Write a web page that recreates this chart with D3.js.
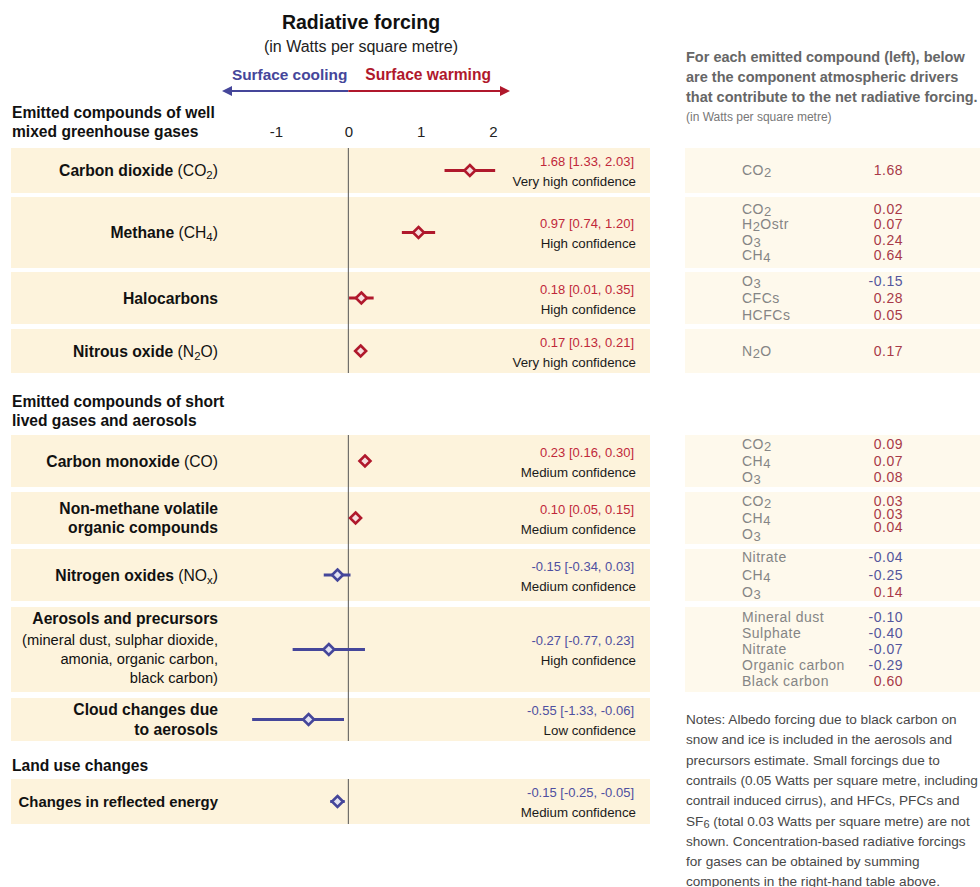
<!DOCTYPE html>
<html>
<head>
<meta charset="utf-8">
<script src="https://cdn.jsdelivr.net/npm/d3@7/dist/d3.min.js"></script>
<style>
  html, body { margin: 0; padding: 0; background: #ffffff; }
  svg { display: block; }
  text { font-family: "Liberation Sans", Arial, sans-serif; }
</style>
</head>
<body>
<svg id="chart" width="980" height="887"></svg>
<script>
// ---- Data -------------------------------------------------------------
// Emitted compounds: name (bold), formula pieces [text, subscript], best estimate and range
const compoundNames = [
  ["Carbon dioxide"], ["Methane"], ["Halocarbons"], ["Nitrous oxide"],
  ["Carbon monoxide"], ["Non-methane volatile", "organic compounds"], ["Nitrogen oxides"],
  ["Aerosols and precursors"], ["Cloud changes due", "to aerosols"],
  ["Changes in reflected energy"]
];
const compoundFormulas = [
  [["(CO", "2", ")"]], [["(CH", "4", ")"]], null, [["(N", "2", "O)"]],
  [["(CO)", "", ""]], null, [["(NO", "x", ")"]],
  null, null, null
];
const aerosolNote = ["(mineral dust, sulphar dioxide,", "amonia, organic carbon,", "black carbon)"];
const bestEstimate = [1.68, 0.97, 0.18, 0.17, 0.23, 0.10, -0.15, -0.27, -0.55, -0.15];
const lowerBound   = [1.33, 0.74, 0.01, 0.13, 0.16, 0.05, -0.34, -0.77, -1.33, -0.25];
const upperBound   = [2.03, 1.20, 0.35, 0.21, 0.30, 0.15, 0.03, 0.23, -0.06, -0.05];
const confidence = [
  "Very high confidence", "High confidence", "High confidence", "Very high confidence",
  "Medium confidence", "Medium confidence", "Medium confidence", "High confidence",
  "Low confidence", "Medium confidence"
];
const tickValues = [-1, 0, 1, 2];

// Component atmospheric drivers for each emitted compound (right-hand table)
const driverLabels = [
  ["CO2"], ["CO2", "H2Ostr", "O3", "CH4"], ["O3", "CFCs", "HCFCs"], ["N2O"],
  ["CO2", "CH4", "O3"], ["CO2", "CH4", "O3"], ["Nitrate", "CH4", "O3"],
  ["Mineral dust", "Sulphate", "Nitrate", "Organic carbon", "Black carbon"]
];
const driverValues = [
  ["1.68"], ["0.02", "0.07", "0.24", "0.64"], ["-0.15", "0.28", "0.05"], ["0.17"],
  ["0.09", "0.07", "0.08"], ["0.03", "0.03", "0.04"], ["-0.04", "-0.25", "0.14"],
  ["-0.10", "-0.40", "-0.07", "-0.29", "0.60"]
];

const sectionTitles = [
  ["Emitted compounds of well", "mixed greenhouse gases"],
  ["Emitted compounds of short", "lived gases and aerosols"],
  ["Land use changes"]
];

const notesLines = [
  "Notes: Albedo forcing due to black carbon on",
  "snow and ice is included in the aerosols and",
  "precursors estimate. Small forcings due to",
  "contrails (0.05 Watts per square metre, including",
  "contrail induced cirrus), and HFCs, PFCs and",
  "SF6 (total 0.03 Watts per square metre) are not",
  "shown. Concentration-based radiative forcings",
  "for gases can be obtained by summing",
  "components in the right-hand table above."
];

// ---- Layout -----------------------------------------------------------
const rowTop    = [148, 197, 272, 329, 435, 492, 549, 607, 698, 779];
const rowBottom = [193, 268, 324, 373, 487, 544, 601, 692, 741, 824];
const labelSizes = [15.7, 15.7, 15.7, 15.7, 15.7, 15.7, 15.7, 15.7, 15.7, 14.9];
const sectionSpans = [[148, 373], [435, 741], [779, 824]];
const driverGap = [16, 15.5, 17, 16, 16.5, 16.5, 17.5, 16];
const driverValueGap = [16, 15.5, 17, 16, 16.5, 13, 17.5, 16];

const RED = "#b0182c", BLUE = "#45469a";
const RED_TXT = "#c0283a", BLUE_TXT = "#4e4fa0";
const TBL_RED = "#a83a48", TBL_BLUE = "#55569c";
const LEFT_BG = "#fdf3dc", RIGHT_BG = "#fef9ec";

const svg = d3.select("#chart");
const x = d3.scaleLinear().domain([-1, 2]).range([276, 493]);
const center = i => (rowTop[i] + rowBottom[i]) / 2;

// Title block
svg.append("text").attr("x", 361).attr("y", 29).attr("text-anchor", "middle")
  .attr("font-size", 19.5).attr("font-weight", "bold").attr("fill", "#111")
  .text("Radiative forcing");
svg.append("text").attr("x", 361).attr("y", 52).attr("text-anchor", "middle")
  .attr("font-size", 16).attr("fill", "#222")
  .text("(in Watts per square metre)");

// Cooling / warming arrow
svg.append("text").attr("x", x(0) - 1).attr("y", 80).attr("text-anchor", "end")
  .attr("font-size", 15.4).attr("font-weight", "bold").attr("fill", BLUE).text("Surface cooling");
svg.append("text").attr("x", x(0) + 17).attr("y", 80).attr("text-anchor", "start")
  .attr("font-size", 15.6).attr("font-weight", "bold").attr("fill", RED).text("Surface warming");
const arrowY = 91;
svg.append("line").attr("x1", 230).attr("x2", x(0)).attr("y1", arrowY).attr("y2", arrowY)
  .attr("stroke", BLUE).attr("stroke-width", 2);
svg.append("line").attr("x1", x(0)).attr("x2", 502).attr("y1", arrowY).attr("y2", arrowY)
  .attr("stroke", RED).attr("stroke-width", 2);
svg.append("path").attr("d", `M222,${arrowY} L232,${arrowY - 5} L232,${arrowY + 5} Z`).attr("fill", BLUE);
svg.append("path").attr("d", `M510,${arrowY} L500,${arrowY - 5} L500,${arrowY + 5} Z`).attr("fill", RED);

// Axis tick labels
const axis = d3.axisTop(x).tickValues(tickValues).tickSize(0).tickPadding(0)
  .tickFormat(d => String(d));
const axisG = svg.append("g").attr("transform", "translate(0,137)").call(axis);
axisG.select(".domain").remove();
axisG.selectAll("text").attr("font-size", 15).attr("fill", "#222")
  .attr("font-family", "'Liberation Sans', Arial, sans-serif").attr("dy", 0);

// Section headings
const sectionY = [[118, 137], [407, 426], [771]];
sectionTitles.forEach((lines, s) => {
  lines.forEach((t, k) => {
    svg.append("text").attr("x", 12).attr("y", sectionY[s][k])
      .attr("font-size", 15.6).attr("font-weight", "bold").attr("fill", "#111").text(t);
  });
});

// Row backgrounds
const rows = d3.range(bestEstimate.length);
svg.append("g").selectAll("rect").data(rows).join("rect")
  .attr("x", 11).attr("width", 639)
  .attr("y", i => rowTop[i]).attr("height", i => rowBottom[i] - rowTop[i])
  .attr("fill", LEFT_BG);

// Zero lines per section
svg.append("g").selectAll("line").data(sectionSpans).join("line")
  .attr("x1", x(0)).attr("x2", x(0))
  .attr("y1", d => d[0]).attr("y2", d => d[1])
  .attr("stroke", "#555").attr("stroke-width", 1);

// Row labels
const labelX = 218;
rows.forEach(i => {
  const c = center(i);
  const names = compoundNames[i];
  const size = labelSizes[i];
  if (i === 7) {
    svg.append("text").attr("x", labelX).attr("y", rowTop[i] + 17).attr("text-anchor", "end")
      .attr("font-size", size).attr("font-weight", "bold").attr("fill", "#111").text(names[0]);
    aerosolNote.forEach((t, k) => {
      svg.append("text").attr("x", labelX).attr("y", rowTop[i] + 38 + k * 19).attr("text-anchor", "end")
        .attr("font-size", 14.7).attr("fill", "#111").text(t);
    });
    return;
  }
  const ys = names.length === 1 ? [c + 5.5] : [c - 4.5, c + 15];
  names.forEach((t, k) => {
    const txt = svg.append("text").attr("x", labelX).attr("y", ys[k]).attr("text-anchor", "end")
      .attr("font-size", size).attr("fill", "#111");
    txt.append("tspan").attr("font-weight", "bold").text(t);
    const f = compoundFormulas[i];
    if (f && k === names.length - 1) {
      f.forEach(([a, sub, b]) => {
        txt.append("tspan").text(" " + a);
        if (sub) txt.append("tspan").attr("font-size", 11.5).attr("dy", 3).text(sub);
        if (b) txt.append("tspan").attr("dy", sub ? -3 : 0).text(b);
      });
    }
  });
});

// Uncertainty ranges and best estimates
const colorOf = i => bestEstimate[i] >= 0 ? RED : BLUE;
svg.append("g").selectAll("line").data(rows).join("line")
  .attr("x1", i => x(lowerBound[i])).attr("x2", i => x(upperBound[i]))
  .attr("y1", i => center(i)).attr("y2", i => center(i))
  .attr("stroke", colorOf).attr("stroke-width", 3);
const dr = 5.5;
svg.append("g").selectAll("path").data(rows).join("path")
  .attr("d", i => {
    const cx = x(bestEstimate[i]), cy = center(i);
    return `M${cx},${cy - dr} L${cx + dr},${cy} L${cx},${cy + dr} L${cx - dr},${cy} Z`;
  })
  .attr("fill", i => bestEstimate[i] >= 0 ? "#f6dede" : "#e2e2f2")
  .attr("stroke", colorOf).attr("stroke-width", 2.6);

// Value and confidence labels
const fmt = d3.format(".2f");
const fmtNum = v => fmt(v).replace("−", "-");
rows.forEach(i => {
  const c = center(i);
  svg.append("text").attr("x", 634).attr("y", c - 4.5).attr("text-anchor", "end")
    .attr("font-size", 13).attr("fill", bestEstimate[i] >= 0 ? RED_TXT : BLUE_TXT)
    .text(`${fmtNum(bestEstimate[i])} [${fmtNum(lowerBound[i])}, ${fmtNum(upperBound[i])}]`);
  svg.append("text").attr("x", 636).attr("y", c + 15.5).attr("text-anchor", "end")
    .attr("font-size", 13.3).attr("fill", "#1a1a1a").text(confidence[i]);
});

// Right-hand header
const hdr = ["For each emitted compound (left), below",
             "are the component atmospheric drivers",
             "that contribute to the net radiative forcing."];
hdr.forEach((t, k) => {
  svg.append("text").attr("x", 686).attr("y", 62 + k * 20)
    .attr("font-size", 14.5).attr("font-weight", "bold").attr("fill", "#666").text(t);
});
svg.append("text").attr("x", 686).attr("y", 121).attr("font-size", 12).attr("fill", "#777")
  .text("(in Watts per square metre)");

// Right-hand table
const tableFont = "'DejaVu Sans', Verdana, sans-serif";
function chemLabel(sel, label) {
  // Digits in chemical formulas are drawn as subscripts
  const parts = label.split(/(\d)/).filter(p => p !== "");
  let lowered = false;
  parts.forEach(p => {
    const isDigit = /^\d$/.test(p);
    const ts = sel.append("tspan").text(p);
    if (isDigit && !lowered) { ts.attr("dy", 2).attr("font-size", 13); lowered = true; }
    else if (!isDigit && lowered) { ts.attr("dy", -2); lowered = false; }
    else if (isDigit) ts.attr("font-size", 13);
  });
}
driverLabels.forEach((labels, g) => {
  const i = g;
  svg.append("rect").attr("x", 685).attr("width", 295)
    .attr("y", rowTop[i]).attr("height", rowBottom[i] - rowTop[i]).attr("fill", RIGHT_BG);
  const c = center(i);
  const n = labels.length;
  labels.forEach((lab, k) => {
    const y = c + (k - (n - 1) / 2) * driverGap[g] + 4.5;
    const t = svg.append("text").attr("x", 742).attr("y", y)
      .attr("font-family", tableFont).attr("font-size", 14).attr("letter-spacing", 0.5)
      .attr("fill", "#858585");
    chemLabel(t, lab);
  });
  driverValues[g].forEach((v, k) => {
    const gap = driverValueGap[g];
    const y0 = c + (0 - (n - 1) / 2) * driverGap[g];
    const y = (gap === driverGap[g] ? c + (k - (n - 1) / 2) * gap : y0 + k * gap) + 4.5;
    svg.append("text").attr("x", 903).attr("y", y).attr("text-anchor", "end")
      .attr("font-family", tableFont).attr("font-size", 14).attr("letter-spacing", 0.5)
      .attr("fill", +v < 0 ? TBL_BLUE : TBL_RED).text(v);
  });
});

// Notes
notesLines.forEach((line, k) => {
  const t = svg.append("text").attr("x", 686).attr("y", 724 + k * 20.3)
    .attr("font-size", 13.6).attr("fill", "#484848");
  if (line.startsWith("SF6")) {
    t.append("tspan").text("SF");
    t.append("tspan").attr("font-size", 11).attr("dy", 2).text("6");
    t.append("tspan").attr("dy", -2).text(line.slice(3));
  } else {
    t.text(line);
  }
});
</script>
</body>
</html>
